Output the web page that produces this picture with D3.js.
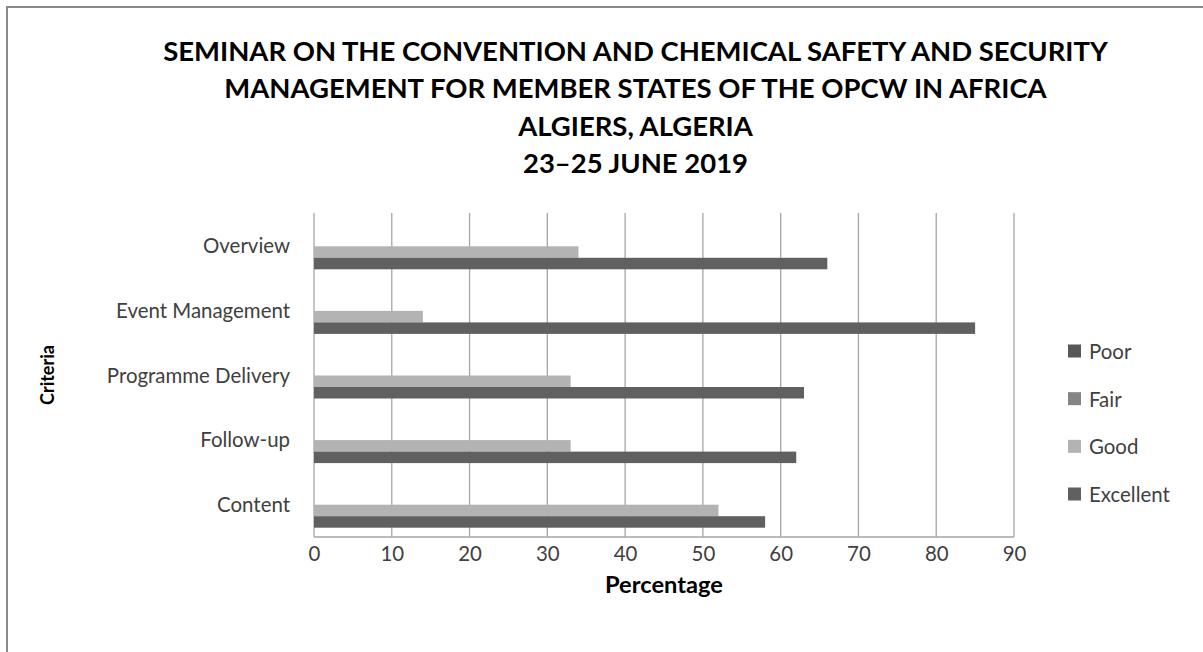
<!DOCTYPE html>
<html>
<head>
<meta charset="utf-8">
<script src="https://cdn.jsdelivr.net/npm/d3@7"></script>
<style>
  html, body { margin: 0; padding: 0; background: #fff; }
  svg { display: block; }
  text { font-family: Lato, "Open Sans", sans-serif; }
</style>
</head>
<body>
<svg id="chart" width="1203" height="652"></svg>
<script>
// ---- Data ----
const titleLines = [
  "SEMINAR ON THE CONVENTION AND CHEMICAL SAFETY AND SECURITY",
  "MANAGEMENT FOR MEMBER STATES OF THE OPCW IN AFRICA",
  "ALGIERS, ALGERIA",
  "23\u201325 JUNE 2019"
];
const categories = ["Overview", "Event Management", "Programme Delivery", "Follow-up", "Content"];
const seriesNames = ["Poor", "Fair", "Good", "Excellent"];
const poorValues = [0, 0, 0, 0, 0];
const fairValues = [0, 0, 0, 0, 0];
const goodValues = [34, 14, 33, 33, 52];
const excellentValues = [66, 85, 63, 62, 58];
const xTicks = [0, 10, 20, 30, 40, 50, 60, 70, 80, 90];
const xLabel = "Percentage";
const yLabel = "Criteria";

// ---- Styles ----
const colors = { Poor: "#575757", Fair: "#858585", Good: "#b3b3b3", Excellent: "#606060" };
const textColor = "#404040";
const gridColor = "#a6a6a6";

const svg = d3.select("#chart");
svg.append("rect").attr("width", 1203).attr("height", 652).attr("fill", "#fff");
svg.append("rect").attr("x", 7).attr("y", 7).attr("width", 1400).attr("height", 800)
  .attr("fill", "none").attr("stroke", "#8a8a8a").attr("stroke-width", 2);

// fit helper: set font size so text width equals target
function fitText(sel, target) {
  const base = 20;
  sel.style("font-size", base + "px");
  const w = sel.node().getComputedTextLength();
  sel.style("font-size", (base * target / w) + "px");
}

// ---- Title ----
const titleYs = [50, 87.5, 125, 162.5];
const titleG = svg.append("g");
const t0 = titleG.append("text").text(titleLines[0]).attr("font-weight", 700);
fitText(t0, 945);
const titleSize = t0.style("font-size");
t0.remove();
titleLines.forEach((line, i) => {
  titleG.append("text")
    .attr("x", 635.5).attr("y", titleYs[i])
    .attr("text-anchor", "middle").attr("dominant-baseline", "central")
    .attr("font-weight", 700).style("font-size", titleSize)
    .attr("fill", "#000")
    .text(line);
});

// ---- Scales ----
const x = d3.scaleLinear().domain([0, 90]).range([314, 1014]);
const y = d3.scaleBand().domain(categories).range([214, 537]).paddingInner(0.288).paddingOuter(0.144);
const ySub = d3.scaleBand().domain(seriesNames).range([0, y.bandwidth()]);

const valuesBySeries = { Poor: poorValues, Fair: fairValues, Good: goodValues, Excellent: excellentValues };

// ---- Gridlines ----
const grid = svg.append("g");
grid.selectAll("line").data(xTicks).join("line")
  .attr("x1", d => x(d)).attr("x2", d => x(d))
  .attr("y1", 213).attr("y2", 537)
  .attr("stroke", gridColor).attr("stroke-width", 1.3);
// bottom axis line
svg.append("line").attr("x1", x(0)).attr("x2", x(90)).attr("y1", 537).attr("y2", 537)
  .attr("stroke", gridColor).attr("stroke-width", 1.3);

// ---- Bars ----
const barG = svg.append("g");
categories.forEach((cat, ci) => {
  seriesNames.forEach(s => {
    const v = valuesBySeries[s][ci];
    barG.append("rect")
      .attr("x", x(0))
      .attr("y", y(cat) + ySub(s))
      .attr("width", x(v) - x(0))
      .attr("height", ySub.bandwidth())
      .attr("fill", colors[s]);
  });
});

// ---- Category labels (y axis) ----
const catProbe = svg.append("text").text("Event Management");
fitText(catProbe, 174);
const labelSize = catProbe.style("font-size");
catProbe.remove();

const yAxis = d3.axisLeft(y).tickSize(0).tickPadding(0);
const yAxisG = svg.append("g").attr("transform", "translate(290,0)").call(yAxis);
yAxisG.select(".domain").remove();
yAxisG.selectAll("text")
  .attr("fill", textColor).style("font-size", labelSize)
  .attr("font-family", null).attr("dy", "0.35em");

// ---- X axis tick labels ----
const xAxis = d3.axisBottom(x).tickValues(xTicks).tickSize(0).tickPadding(0).tickFormat(d3.format("d"));
const xAxisG = svg.append("g").attr("transform", "translate(0,554)").call(xAxis);
xAxisG.select(".domain").remove();
xAxisG.selectAll("text")
  .attr("fill", textColor).style("font-size", labelSize)
  .attr("font-family", null).attr("y", 0).attr("dy", "0.35em");

// ---- Axis titles ----
const xl = svg.append("text").text(xLabel).attr("font-weight", 700).attr("fill", "#000")
  .attr("text-anchor", "middle").attr("dominant-baseline", "central");
fitText(xl, 118);
xl.attr("x", 664).attr("y", 584);

const yl = svg.append("text").text(yLabel).attr("font-weight", 700).attr("fill", "#000")
  .attr("text-anchor", "middle").attr("dominant-baseline", "central");
fitText(yl, 60);
yl.attr("transform", "translate(47,375) rotate(-90)");

// ---- Legend ----
const legendYs = d3.scalePoint().domain(seriesNames).range([351, 494]);
const legend = svg.append("g");
seriesNames.forEach(s => {
  legend.append("rect")
    .attr("x", 1068).attr("y", legendYs(s) - 6.5)
    .attr("width", 13).attr("height", 13)
    .attr("fill", colors[s]);
  legend.append("text")
    .attr("x", 1089).attr("y", legendYs(s))
    .attr("dominant-baseline", "central")
    .attr("fill", textColor).style("font-size", labelSize)
    .text(s);
});
</script>
</body>
</html>
